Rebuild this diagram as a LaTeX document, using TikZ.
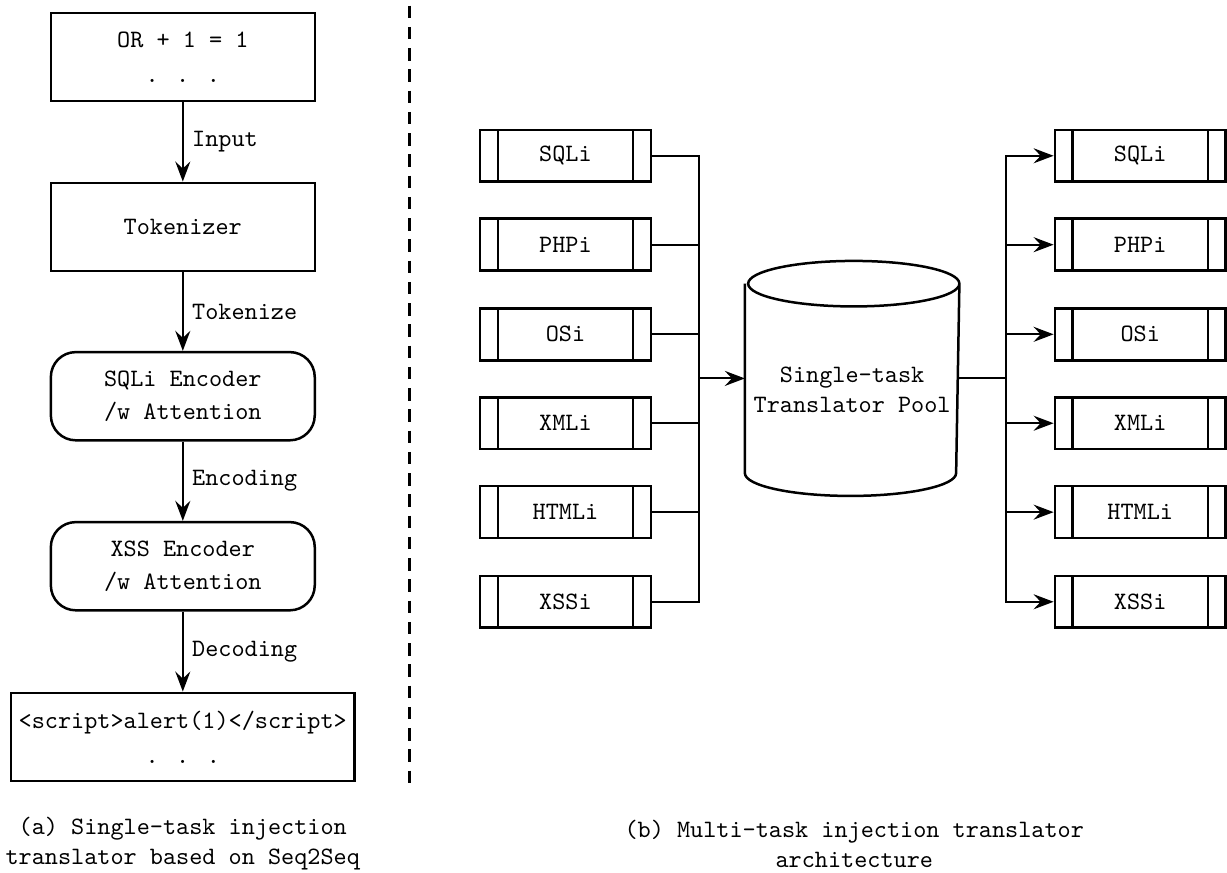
\documentclass[tikz,border=0pt]{standalone}
\usepackage{amsmath}
\usetikzlibrary{arrows, arrows.meta}
\usetikzlibrary{calc}

\begin{document}
\begin{tikzpicture}[
    font=\ttfamily,
    >={Stealth[length=8pt, width=6pt, inset=2.8pt]},
    flowbox/.style={draw, line width=1pt, align=center, minimum width=3.71cm, minimum height=1.24cm},
    encbox/.style={flowbox, rounded corners=0.35cm},
    procbox/.style={draw, line width=1pt, minimum width=2.4cm, minimum height=0.73cm,
      path picture={
        \draw[line width=1pt] ([xshift=0.25cm]path picture bounding box.north west) -- ([xshift=0.25cm]path picture bounding box.south west);
        \draw[line width=1pt] ([xshift=-0.25cm]path picture bounding box.north east) -- ([xshift=-0.25cm]path picture bounding box.south east);
      }},
    link/.style={line width=0.8pt}
  ]
  \useasboundingbox (0,0) rectangle (17.25,-12.26);

  % (a) single-task translator
  \node[flowbox] (payload) at (2.57,-0.80) {OR + 1 = 1\\[2pt]. . .};
  \node[flowbox] (tok) at (2.57,-3.19) {Tokenizer};
  \node[encbox] (sqlenc) at (2.57,-5.57) {SQLi Encoder\\[1pt]/w Attention};
  \node[encbox] (xssenc) at (2.57,-7.96) {XSS Encoder\\[1pt]/w Attention};
  \node[flowbox, minimum width=0pt, inner xsep=3pt] (result) at (2.57,-10.36) {<script>alert(1)</script>\\[2pt]. . .};

  \draw[->, link] (payload) -- node[right] {Input} (tok);
  \draw[->, link] (tok) -- node[right] {Tokenize} (sqlenc);
  \draw[->, link] (sqlenc) -- node[right] {Encoding} (xssenc);
  \draw[->, link] (xssenc) -- node[right] {Decoding} (result);

  \node[align=center] (capa) at (2.57,-11.86) {(a) Single-task injection\\translator based on Seq2Seq};

  % divider
  \draw[line width=1pt, dash pattern=on 5pt off 3.5pt] (5.76,-0.08) -- (5.76,-11.06);

  % (b) multi-task translator
  \node[procbox] (inSQLi) at (7.95,-2.19) {SQLi};
  \node[procbox] (inPHPi) at (7.95,-3.44) {PHPi};
  \node[procbox] (inOSi) at (7.95,-4.70) {OSi};
  \node[procbox] (inXMLi) at (7.95,-5.95) {XMLi};
  \node[procbox] (inHTMLi) at (7.95,-7.20) {HTMLi};
  \node[procbox] (inXSSi) at (7.95,-8.46) {XSSi};

  \node[minimum width=2.97cm, minimum height=3.29cm, align=center] (pool) at (11.98,-5.32) {\rule{0pt}{15pt}Single-task\\Translator Pool};
  \draw[line width=1pt] ([yshift=-0.32cm]pool.north west) -- ([yshift=0.32cm]pool.south west)
    arc[start angle=180, end angle=360, x radius=1.485cm, y radius=0.32cm]
    -- ([yshift=-0.32cm]pool.north east)
    arc[start angle=0, end angle=360, x radius=1.485cm, y radius=0.32cm];

  \node[procbox] (outSQLi) at (16.03,-2.19) {SQLi};
  \node[procbox] (outPHPi) at (16.03,-3.44) {PHPi};
  \node[procbox] (outOSi) at (16.03,-4.70) {OSi};
  \node[procbox] (outXMLi) at (16.03,-5.95) {XMLi};
  \node[procbox] (outHTMLi) at (16.03,-7.20) {HTMLi};
  \node[procbox] (outXSSi) at (16.03,-8.46) {XSSi};

  \coordinate (busin) at (9.83,-5.32);
  \coordinate (busout) at (14.14,-5.32);

  \draw[link] (inSQLi.east) -| (busin);
  \draw[link] (inPHPi.east) -| (busin);
  \draw[link] (inOSi.east) -| (busin);
  \draw[link] (inXMLi.east) -| (busin);
  \draw[link] (inHTMLi.east) -| (busin);
  \draw[link] (inXSSi.east) -| (busin);
  \draw[->, link] (busin) -- (pool.west);

  \draw[link] (pool.east) -- (busout);
  \draw[->, link] (busout) |- (outSQLi.west);
  \draw[->, link] (busout) |- (outPHPi.west);
  \draw[->, link] (busout) |- (outOSi.west);
  \draw[->, link] (busout) |- (outXMLi.west);
  \draw[->, link] (busout) |- (outHTMLi.west);
  \draw[->, link] (busout) |- (outXSSi.west);

  \node[align=center] (capb) at (12.01,-11.86) {(b) Multi-task injection translator\\architecture};
\end{tikzpicture}
\end{document}
